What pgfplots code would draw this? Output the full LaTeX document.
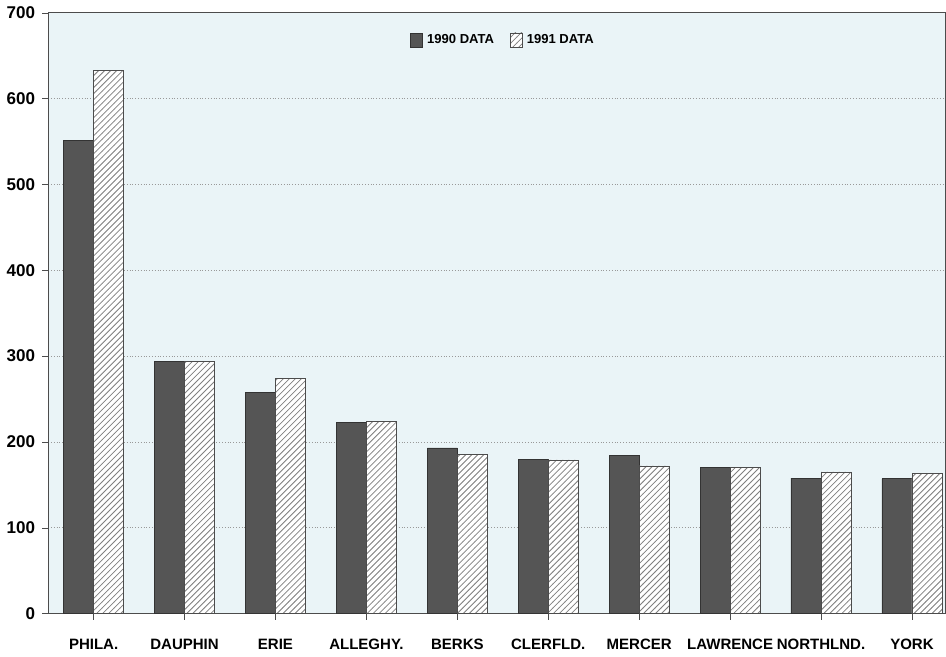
\documentclass[border=0pt]{standalone}
\usepackage{pgfplots}
\pgfplotsset{compat=1.18}
\usetikzlibrary{patterns}
\usepackage{fontspec}
\setmainfont{Liberation Sans}
\definecolor{plotbg}{HTML}{EAF4F7}
\definecolor{darkbar}{HTML}{555555}

\begin{document}
\begin{tikzpicture}
\begin{axis}[
    scale only axis,
    width=448pt, height=300pt,
    ymin=0, ymax=700,
    ytick={0,100,...,700},
    xmin=-0.5, xmax=9.37,
    xtick={0,...,9},
    xticklabels={PHILA., DAUPHIN, ERIE, ALLEGHY., BERKS,
                 CLERFLD., MERCER, LAWRENCE, NORTHLND., YORK},
    ybar=0pt, bar width=15pt,
    ymajorgrids,
    grid style={densely dotted, gray!80},
    axis background/.style={fill=plotbg},
    axis line style={gray!60!black},
    tick style={gray!60!black},
    major tick length=3pt,
    tick align=outside,
    xtick pos=bottom, ytick pos=left,
    xticklabel style={font=\fontsize{7.5}{8}\selectfont\bfseries, yshift=-6pt},
    yticklabel style={font=\fontsize{8.5}{9}\selectfont\bfseries},
    /pgf/number format/assume math mode=true,
    legend style={at={(0.508,0.953)}, anchor=center, draw=none, fill=none,
                  legend columns=2, font=\fontsize{6.5}{7}\selectfont\bfseries,
                  /tikz/every even column/.append style={column sep=6pt}},
    legend image code/.code={\draw[#1] (0pt,-3pt) rectangle (6pt,4pt);},
]
% 1990
\addplot[draw=black!80, fill=darkbar] coordinates {
    (0,551) (1,294) (2,258) (3,223) (4,193)
    (5,180) (6,184) (7,170) (8,158) (9,157)
};
\addlegendentry{1990 DATA}
% 1991
\addplot[draw=gray!60!black, fill=white,
    postaction={pattern=north east lines, pattern color=gray}] coordinates {
    (0,633) (1,294) (2,274) (3,224) (4,185)
    (5,179) (6,172) (7,170) (8,165) (9,163)
};
\addlegendentry{1991 DATA}
\end{axis}
\end{tikzpicture}
\end{document}
